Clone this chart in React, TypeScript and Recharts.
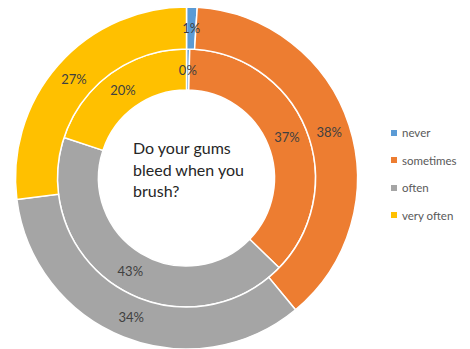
import React from "react";
import { PieChart, Pie, Cell, Legend } from "recharts";

const categories = ["never", "sometimes", "often", "very often"];
const outerValues = [1, 38, 34, 27];
const innerValues = [0.4, 37, 43, 20];
const colors = ["#5B9BD5", "#ED7D31", "#A5A5A5", "#FFC000"];
const centerLines = ["Do your gums", "bleed when you", "brush?"];

const outerData = categories.map((name, i) => ({ name, value: outerValues[i] }));
const innerData = categories.map((name, i) => ({ name, value: innerValues[i] }));

const RAD = Math.PI / 180;

const renderLabel = (props: any) => {
  const { cx, cy, midAngle, innerRadius, outerRadius, percent } = props;
  const r = (innerRadius + outerRadius) / 2;
  const x = cx + r * Math.cos(-midAngle * RAD);
  const y = cy + r * Math.sin(-midAngle * RAD);
  return (
    <text
      x={x}
      y={y}
      fill="#404040"
      fontSize={13}
      fontFamily="Lato, 'Open Sans', sans-serif"
      textAnchor="middle"
      dominantBaseline="central"
    >
      {`${Math.round(percent * 100)}%`}
    </text>
  );
};

const LegendContent = () => (
  <div style={{ fontFamily: "Lato, 'Open Sans', sans-serif", fontSize: 11.5, color: "#595959" }}>
    {categories.map((c, i) => (
      <div key={c} style={{ display: "flex", alignItems: "center", height: 27.5 }}>
        <span style={{ display: "inline-block", width: 6, height: 6, background: colors[i], marginRight: 5 }} />
        <span>{c}</span>
      </div>
    ))}
  </div>
);

export default function App() {
  return (
    <div style={{ position: "absolute", left: 0, top: 0, width: 470, height: 349, background: "#fff" }}>
      <PieChart width={470} height={349} margin={{ top: 0, right: 0, bottom: 0, left: 0 }}>
        <Pie
          data={innerData}
          dataKey="value"
          nameKey="name"
          cx={186.5}
          cy={178}
          innerRadius={88}
          outerRadius={129}
          startAngle={90}
          endAngle={-270}
          stroke="#ffffff"
          strokeWidth={1.5}
          label={renderLabel}
          labelLine={false}
          isAnimationActive={false}
        >
          {innerData.map((d, i) => (
            <Cell key={d.name} fill={colors[i]} />
          ))}
        </Pie>
        <Pie
          data={outerData}
          dataKey="value"
          nameKey="name"
          cx={186.5}
          cy={178}
          innerRadius={129}
          outerRadius={171}
          startAngle={90}
          endAngle={-270}
          stroke="#ffffff"
          strokeWidth={1.5}
          label={renderLabel}
          labelLine={false}
          isAnimationActive={false}
        >
          {outerData.map((d, i) => (
            <Cell key={d.name} fill={colors[i]} />
          ))}
        </Pie>
        <Legend
          content={<LegendContent />}
          wrapperStyle={{ position: "absolute", left: 391, top: 119, width: 80 }}
        />
      </PieChart>
      <div
        style={{
          position: "absolute",
          left: 133,
          top: 137,
          fontFamily: "Lato, 'Open Sans', sans-serif",
          fontSize: 16,
          lineHeight: "21.5px",
          color: "#262626",
          whiteSpace: "nowrap",
        }}
      >
        {centerLines.map((l) => (
          <div key={l}>{l}</div>
        ))}
      </div>
    </div>
  );
}
